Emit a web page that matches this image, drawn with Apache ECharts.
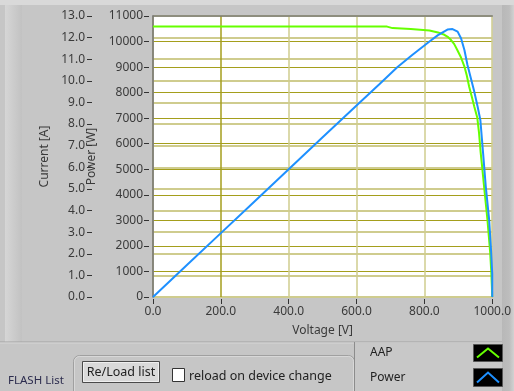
<!DOCTYPE html>
<html><head><meta charset="utf-8">
<script src="https://cdn.jsdelivr.net/npm/echarts@6/dist/echarts.min.js"></script>
<style>html,body{margin:0;padding:0;background:#c6c6c6;}#c{width:514px;height:391px;}</style>
</head><body><div id="c"></div>
<script>
// Voltage [V] and current [A] of the AAP (I-V) curve
var aapVoltage = [0, 690, 706, 760, 815, 840, 859, 870, 878, 888, 897, 908, 918, 925, 932, 940, 947, 956, 961, 966, 971, 976, 981, 986, 990, 994, 997, 999, 1000];
var aapCurrent = [12.52, 12.51, 12.44, 12.40, 12.33, 12.24, 12.13, 12.02, 11.90, 11.70, 11.43, 11.08, 10.66, 10.25, 9.73, 9.25, 8.81, 8.29, 7.60, 6.67, 5.90, 5.11, 4.33, 3.56, 2.80, 2.04, 1.20, 0.46, 0];
// Voltage [V] and power [W] of the power curve
var powerVoltage = [0, 100, 200, 300, 400, 500, 600, 668, 720, 765, 815, 840, 854, 868, 883, 898, 908, 918, 927, 937, 947, 957, 965, 973, 981, 991, 997, 1000, 1000];
var powerWatts = [0, 1250, 2500, 3750, 5000, 6250, 7500, 8340, 8990, 9480, 10000, 10250, 10360, 10470, 10490, 10390, 10130, 9670, 9080, 8560, 8040, 7450, 6930, 5640, 4320, 3010, 1720, 900, 0];
var legendNames = ['AAP', 'Power'];
var seriesColors = ['#66ff00', '#1e90ff'];

function pairs(xs, ys) { return xs.map(function (x, i) { return [x, ys[i]]; }); }

var chart = echarts.init(document.getElementById('c'), null, {renderer: 'canvas'});
var FONT = 'Noto Sans';
var dark = '#a49e1c', light = '#cfcc8e';
var tickColor = '#333333';
var clear = 'rgba(0,0,0,0)';

var bg = [
  {type: 'rect', z: -19, shape: {x: 0, y: 0, width: 514, height: 5}, style: {fill: '#d9d9d9'}},
  {type: 'rect', z: -19, shape: {x: 5, y: 5, width: 17, height: 337}, style: {fill: new echarts.graphic.LinearGradient(0, 0, 1, 0, [{offset: 0, color: '#d6d6d6'}, {offset: 1, color: '#c2c2c2'}])}},
  {type: 'rect', z: -19, shape: {x: 502, y: 5, width: 12, height: 386}, style: {fill: new echarts.graphic.LinearGradient(0, 0, 1, 0, [{offset: 0, color: '#b8b8b8'}, {offset: 0.6, color: '#bdbdbd'}, {offset: 1, color: '#d2d2d2'}])}},
  {type: 'line', z: -18, shape: {x1: 0, y1: 342, x2: 502, y2: 342}, style: {stroke: '#a2a2a2', lineWidth: 1}},
  {type: 'line', z: -18, shape: {x1: 0, y1: 343, x2: 502, y2: 343}, style: {stroke: '#d6d6d6', lineWidth: 1}},
  {type: 'rect', z: -18, shape: {x: 73.5, y: 355.5, width: 281, height: 45, r: 6}, style: {fill: 'none', stroke: '#a0a0a0', lineWidth: 1}},
  {type: 'rect', z: -18, shape: {x: 74.5, y: 356.5, width: 279, height: 43, r: 5}, style: {fill: 'none', stroke: '#d8d8d8', lineWidth: 1}},
  {type: 'line', z: -17, shape: {x1: 354.5, y1: 342, x2: 354.5, y2: 391}, style: {stroke: '#8c8c8c', lineWidth: 1}},
  {type: 'rect', z: -17, shape: {x: 355, y: 343, width: 147, height: 48}, style: {fill: '#c8c8c8'}},
  {type: 'rect', z: -16, shape: {x: 82.5, y: 361.5, width: 77, height: 21}, style: {fill: '#d9d9d9', stroke: '#4a4a4a', lineWidth: 1}},
  {type: 'rect', z: -15, shape: {x: 83.5, y: 362.5, width: 75, height: 19}, style: {fill: 'none', stroke: '#efefef', lineWidth: 1}},
  {type: 'text', z: -14, style: {text: 'Re/Load list', x: 121, y: 372, align: 'center', verticalAlign: 'middle', textAlign: 'center', textVerticalAlign: 'middle', font: '12.5px "Noto Sans"', fill: '#222'}},
  {type: 'rect', z: -16, shape: {x: 172.5, y: 368.5, width: 12, height: 13}, style: {fill: '#ffffff', stroke: '#333', lineWidth: 1}},
  {type: 'text', z: -14, style: {text: 'reload on device change', x: 189, y: 376, align: 'left', verticalAlign: 'middle', textAlign: 'left', textVerticalAlign: 'middle', font: '12.5px "Noto Sans"', fill: '#222'}},
  {type: 'text', z: -14, style: {text: 'FLASH List', x: 8, y: 381, align: 'left', verticalAlign: 'middle', textAlign: 'left', textVerticalAlign: 'middle', font: '11.5px "Noto Sans"', fill: '#2c2c4e'}}
];
legendNames.forEach(function (n, i) {
  var top = i === 0 ? 344.5 : 368.5;
  var h = i === 0 ? 17 : 18;
  bg.push({type: 'text', z: -14, style: {text: n, x: 370, y: top + h / 2, align: 'left', verticalAlign: 'middle', textAlign: 'left', textVerticalAlign: 'middle', font: '12px "Noto Sans"', fill: '#222'}});
  bg.push({type: 'rect', z: -14, shape: {x: 473.5, y: top, width: 29, height: h}, style: {fill: '#000', stroke: '#555', lineWidth: 1}});
  bg.push({type: 'polyline', z: -13, shape: {points: [[477, top + h - 4], [488, top + 4], [499, top + h - 4]]}, style: {stroke: seriesColors[i], lineWidth: 2, fill: 'none'}});
});

function tickOnly(min, max, interval, position, offset) {
  return {
    type: 'value', min: min, max: max, interval: interval, position: position, offset: offset,
    axisLine: {show: true, onZero: false, lineStyle: {color: clear}},
    axisTick: {show: true, length: 5, lineStyle: {color: tickColor, width: 1}},
    axisLabel: {show: false}, splitLine: {show: false}
  };
}

var option = {
  animation: false,
  backgroundColor: '#c6c6c6',
  textStyle: {fontFamily: FONT},
  graphic: bg,
  grid: {left: 153, right: 21, top: 16, bottom: 94, show: true, backgroundColor: '#ffffff', borderWidth: 0},
  xAxis: [{
    type: 'value', min: 0, max: 1000, interval: 200, position: 'bottom', offset: 2,
    axisLine: {show: false, onZero: false},
    axisTick: {show: false},
    axisLabel: {margin: 7, color: '#3a3a3a', fontSize: 12, fontFamily: FONT, formatter: function (v) { return v.toFixed(1); }},
    splitLine: {show: true, lineStyle: {color: [light, dark, light, light, light, light], width: 1.5}},
    name: 'Voltage [V]', nameLocation: 'middle', nameGap: 26, nameTextStyle: {color: '#3a3a3a', fontSize: 12, fontFamily: FONT}
  }, {
    type: 'value', min: 0, max: 1000, position: 'top',
    axisLine: {show: true, onZero: false, lineStyle: {color: '#7a7a7a', width: 1.5}},
    axisTick: {show: false}, axisLabel: {show: false}, splitLine: {show: false}
  }, tickOnly(0, 1000, 200, 'bottom', 2)],
  yAxis: [{
    type: 'value', min: 0, max: 11000, interval: 1000, position: 'left', offset: 4,
    axisLine: {show: false, onZero: false},
    axisTick: {show: true, length: 5, lineStyle: {color: tickColor, width: 1}},
    axisLabel: {margin: 6, color: '#3a3a3a', fontSize: 12, fontFamily: FONT, formatter: function (v) { return String(v); }},
    splitLine: {show: true, lineStyle: {color: dark, width: 1}},
    name: 'Power [W]', nameLocation: 'middle', nameRotate: 90, nameGap: 43, nameTextStyle: {color: '#3a3a3a', fontSize: 12, fontFamily: FONT}
  }, {
    type: 'value', min: 0, max: 13, interval: 1, position: 'left', offset: 61,
    axisLine: {show: false, onZero: false},
    axisTick: {show: false},
    axisLabel: {margin: 7, color: '#3a3a3a', fontSize: 12, fontFamily: FONT, formatter: function (v) { return v.toFixed(1); }},
    splitLine: {show: true, lineStyle: {color: light, width: 2}},
    name: 'Current [A]', nameLocation: 'middle', nameRotate: 90, nameGap: 37, nameTextStyle: {color: '#3a3a3a', fontSize: 12, fontFamily: FONT}
  }, {
    type: 'value', min: 0, max: 1, position: 'left', offset: 0,
    axisLine: {show: true, onZero: false, lineStyle: {color: '#6e6e6e', width: 1.5}},
    axisTick: {show: false}, axisLabel: {show: false}, splitLine: {show: false}
  }, tickOnly(0, 13, 1, 'left', 61)],
  series: [{
    name: legendNames[0], type: 'line', xAxisIndex: 0, yAxisIndex: 1, showSymbol: false, symbol: 'none',
    data: pairs(aapVoltage, aapCurrent), lineStyle: {color: seriesColors[0], width: 2}, z: 3
  }, {
    name: legendNames[1], type: 'line', xAxisIndex: 0, yAxisIndex: 0, showSymbol: false, symbol: 'none',
    data: pairs(powerVoltage, powerWatts), lineStyle: {color: seriesColors[1], width: 2}, z: 4
  }]
};
chart.setOption(option);
</script>
</body></html>
